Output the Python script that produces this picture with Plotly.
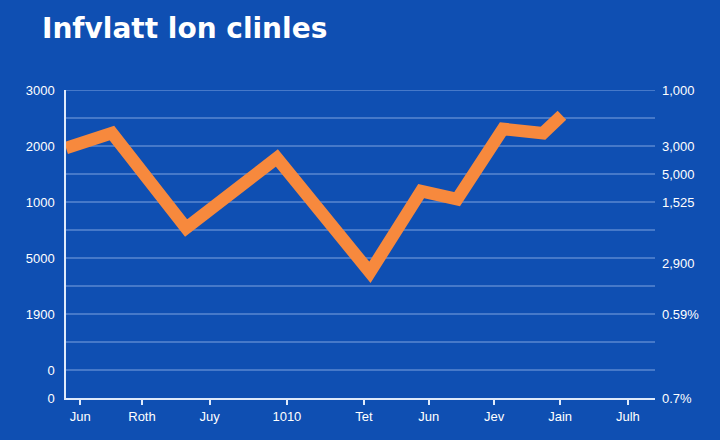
import plotly.graph_objects as go

# Data (x positions on a 0-100 horizontal scale, y on 0-11 gridline scale)
line_x = [0, 7.8, 20.4, 35.8, 51.6, 60.3, 66.4, 74.2, 81.0, 84.2]
line_y = [8.93, 9.46, 6.07, 8.57, 4.49, 7.39, 7.10, 9.61, 9.46, 10.1]

x_tick_vals = [2.4, 12.9, 24.4, 37.5, 50.6, 61.6, 72.7, 83.9, 95.4]
x_tick_text = ["Jun", "Roth", "Juy", "1010", "Tet", "Jun", "Jev", "Jain", "Julh"]

left_tick_vals = [11, 9, 7, 5, 3, 1, 0]
left_tick_text = ["3000", "2000", "1000", "5000", "1900", "0", "0"]

right_tick_vals = [11, 9, 8, 7, 4.8, 3, 0]
right_tick_text = ["1,000", "3,000", "5,000", "1,525", "2,900", "0.59%", "0.7%"]

grid_vals = list(range(0, 12))

BG = "#0f4fb2"
FONT = "Liberation Sans, Arial, sans-serif"

fig = go.Figure()
fig.add_trace(go.Scatter(
    x=line_x, y=line_y, mode="lines",
    line=dict(color="#f7893d", width=12.5),
    hoverinfo="skip", showlegend=False,
))
fig.add_trace(go.Scatter(
    x=[None], y=[None], yaxis="y2", mode="lines", showlegend=False, hoverinfo="skip",
))

for g in grid_vals[1:]:
    fig.add_shape(type="line", xref="x", yref="y", x0=0, x1=100, y0=g, y1=g,
                  line=dict(color="rgba(200,220,255,0.6)", width=1.2), layer="below")

fig.update_layout(
    width=720, height=440,
    margin=dict(l=66, r=65, t=90, b=42),
    paper_bgcolor=BG, plot_bgcolor=BG,
    font=dict(family=FONT, color="white", size=13),
    title=dict(text="<b>Infvlatt lon clinles</b>", x=0, xref="paper", xanchor="left",
               y=0.935, yanchor="middle", yref="container",
               pad=dict(l=-24),
               font=dict(family="DejaVu Sans, sans-serif", size=28, color="white")),
    xaxis=dict(range=[0, 100], tickvals=x_tick_vals, ticktext=x_tick_text,
               showgrid=False, zeroline=False, showline=True,
               linecolor="rgba(235,242,255,0.95)", linewidth=2,
               ticks="outside", ticklen=5, tickcolor="rgba(235,242,255,0.95)",
               tickwidth=1.5, tickfont=dict(size=13, color="white"), fixedrange=True),
    yaxis=dict(range=[0, 11], tickvals=left_tick_vals, ticktext=left_tick_text,
               showgrid=False, zeroline=False, showline=True,
               linecolor="rgba(235,242,255,0.95)", linewidth=1.5,
               ticks="", ticklabelstandoff=7,
               tickfont=dict(size=13, color="white"), fixedrange=True),
    yaxis2=dict(range=[0, 11], overlaying="y", side="right",
                tickvals=right_tick_vals, ticktext=right_tick_text,
                showgrid=False, zeroline=False, showline=False, ticks="",
                ticklabelstandoff=6,
                tickfont=dict(size=13, color="white"), fixedrange=True),
)

fig.write_html("out.html")
